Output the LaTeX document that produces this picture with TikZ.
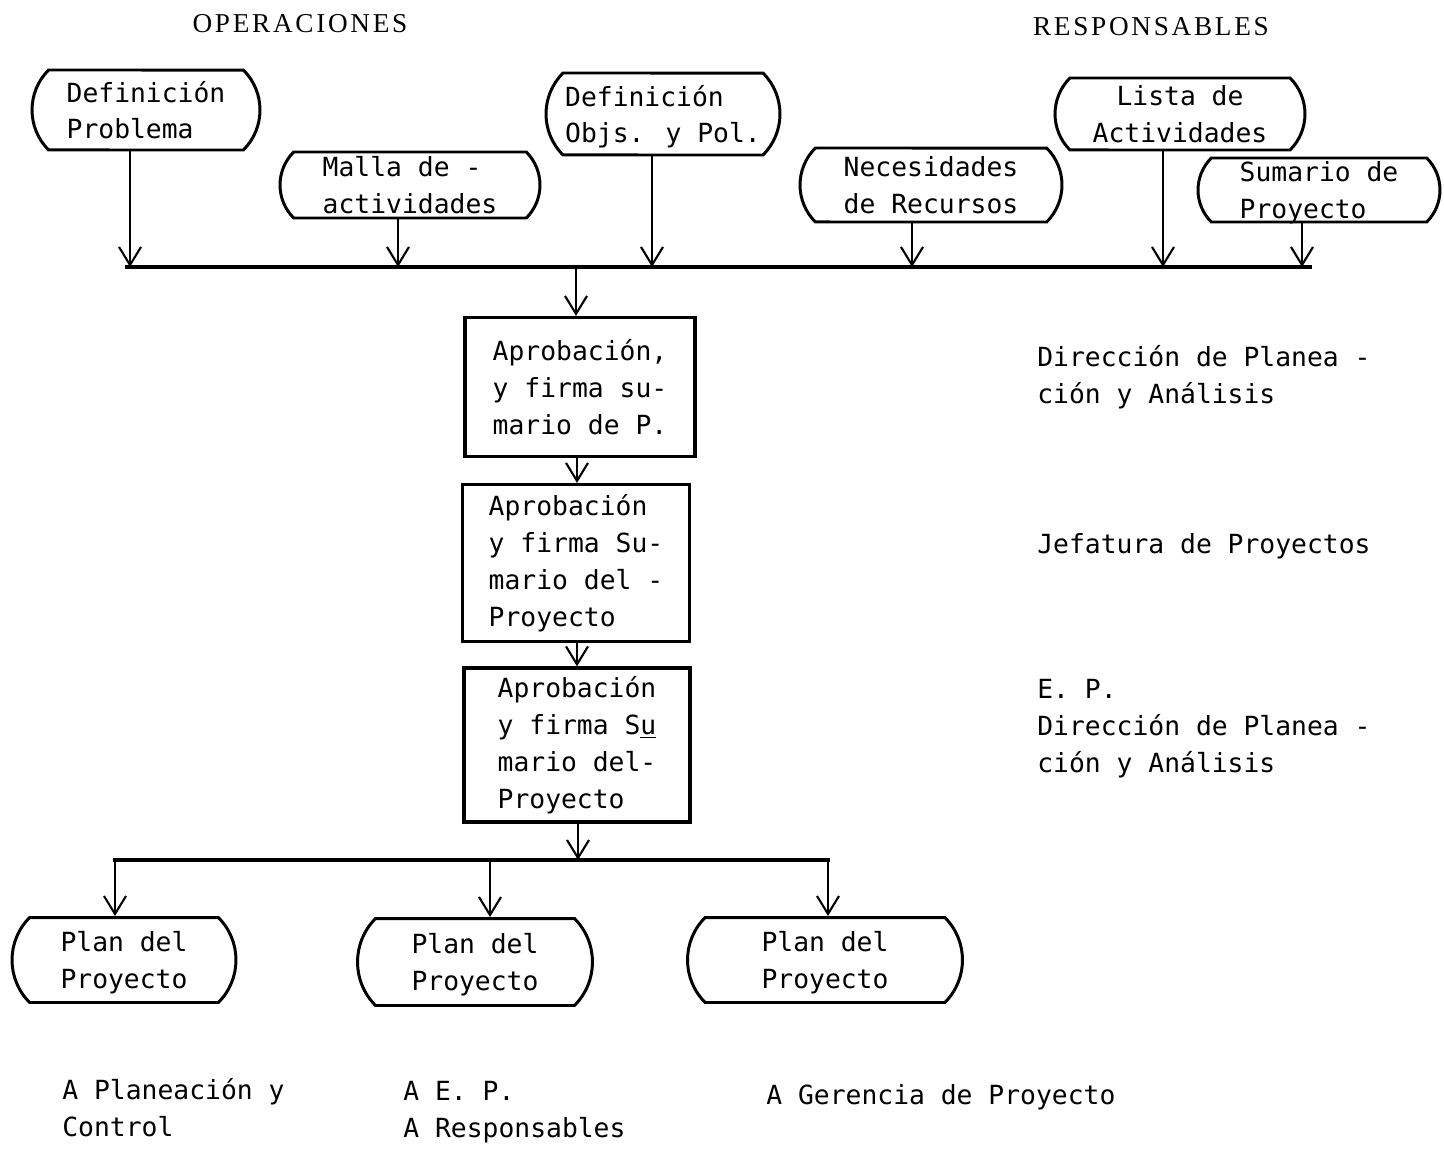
\documentclass[tikz,border=0pt]{standalone}
\usepackage{fontspec}
\newfontfamily\typefont{DejaVu Sans Mono}
\newfontfamily\headfont[LetterSpace=10]{Liberation Serif}
\usetikzlibrary{arrows.meta,positioning,shapes.misc}

\begin{document}
\begin{tikzpicture}[
  x=0.02cm, y=-0.02cm,
  font=\typefont\fontsize{15}{21}\selectfont,
  opbox/.style={draw, line width=1.7pt, rounded rectangle,
    rounded rectangle arc length=90, inner sep=0pt, align=left, text depth=-2pt},
  stepbox/.style={draw, line width=1.8pt, rectangle, inner sep=0pt,
    align=left, minimum width=#1},
  head/.style={font=\headfont\fontsize{15.5}{18}\selectfont},
  resp/.style={anchor=west, align=left, inner sep=0pt},
  arrow/.style={-{Straight Barb[length=3.6mm, width=4.4mm]}, line width=1.2pt},
  bar/.style={line width=1.8pt}
]
  \useasboundingbox (0,0) rectangle (1444,1149);

  \node[head] (ops) at (300,24) {OPERACIONES};
  \node[head] (resps) at (1151,27) {RESPONSABLES};

  % entradas
  \node[opbox, minimum width=4.56cm, minimum height=1.60cm] (defprob) at (146,110) {Definición\\Problema};
  \node[opbox, minimum width=5.20cm, minimum height=1.32cm] (malla) at (410,185) {Malla de  -\\actividades};
  \node[opbox, minimum width=4.68cm, minimum height=1.64cm] (defobj) at (663,114) {Definición\\Objs. y Pol.};
  \node[opbox, minimum width=5.24cm, minimum height=1.48cm] (necesid) at (931,185) {Necesidades\\de Recursos};
  \node[opbox, minimum width=5.00cm, minimum height=1.44cm, align=center] (lista) at (1180,114) {Lista de\\Actividades};
  \node[opbox, minimum width=4.84cm, minimum height=1.28cm] (sumario) at (1319,190) {Sumario de\\Proyecto};

  \coordinate (barw) at (125,267);
  \coordinate (bare) at (1312,267);
  \draw[bar] (barw) -- (bare);
  \foreach \n/\x in {defprob/130, malla/398, defobj/652, necesid/912, lista/1163, sumario/1302}
    \draw[arrow] (\n.south -| \x,0) -- (\x,267);

  % aprobaciones
  \node[stepbox=4.60cm, minimum height=2.78cm] (aprob1) at (580,387) {Aprobación,\\y firma su-\\mario de P.};
  \node[stepbox=4.54cm, minimum height=3.14cm] (aprob2) at (576,563) {Aprobación\\y firma Su-\\mario del -\\Proyecto};
  \node[stepbox=4.52cm, minimum height=3.08cm] (aprob3) at (577,745) {Aprobación\\y firma S\underline{u}\\mario del-\\Proyecto};

  \draw[arrow] (576,267) -- (aprob1.north -| 576,0);
  \draw[arrow] (aprob1.south -| 577,0) -- (aprob2.north -| 577,0);
  \draw[arrow] (aprob2.south -| 577,0) -- (aprob3.north -| 577,0);

  \coordinate (bar2w) at (113,860);
  \coordinate (bar2e) at (830,860);
  \draw[arrow] (aprob3.south -| 578,0) -- (578,860);
  \draw[bar] (bar2w) -- (bar2e);

  % planes
  \node[opbox, minimum width=4.48cm, minimum height=1.70cm] (plan1) at (124,960) {Plan del\\Proyecto};
  \node[opbox, minimum width=4.70cm, minimum height=1.74cm] (plan2) at (475,962) {Plan del\\Proyecto};
  \node[opbox, minimum width=5.50cm, minimum height=1.70cm] (plan3) at (825,960) {Plan del\\Proyecto};
  \foreach \n/\x in {plan1/115, plan2/490, plan3/828}
    \draw[arrow] (\x,860) -- (\n.north -| \x,0);

  \node[resp] (dest1) at (62,1108) {A Planeación y\\Control};
  \node[resp] (dest2) at (403,1112) {A E. P.\\A Responsables};
  \node[resp] (dest3) at (766,1097) {A Gerencia de Proyecto};

  % responsables
  \node[resp] (resp1) at (1037,377) {Dirección de Planea -\\ción y Análisis};
  \node[resp] (resp2) at (1037,546) {Jefatura de Proyectos};
  \node[resp] (resp3) at (1037,729) {E. P.\\Dirección de Planea -\\ción y Análisis};
\end{tikzpicture}
\end{document}
